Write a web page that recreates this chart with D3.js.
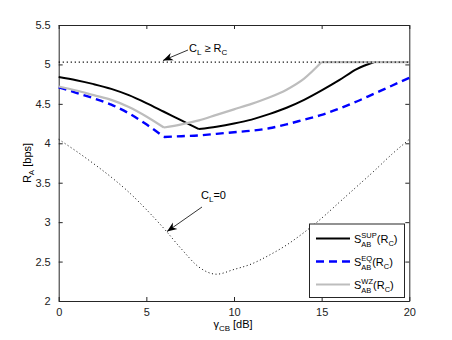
<!DOCTYPE html>
<html>
<head>
<meta charset="utf-8">
<script src="https://cdn.jsdelivr.net/npm/d3@7"></script>
<style>
  body { margin: 0; background: #fff; }
  svg { font-family: "Liberation Sans", Arial, sans-serif; }
</style>
</head>
<body>
<svg id="chart" width="452" height="340"></svg>
<script>
var width = 452, height = 340;
var margin = {left: 58.7, right: 42.7, top: 25, bottom: 39};

// data
var gammaCB = [0,1,2,3,4,5,6,7,8,9,10,11,12,13,14,15,16,17,18,19,20];
var sup = [4.84,4.80,4.75,4.69,4.61,4.51,4.40,4.29,4.18,4.21,4.25,4.30,4.37,4.45,4.55,4.67,4.80,4.94,5.03,5.03,5.03];
var eq  = [4.71,4.64,4.57,4.49,4.38,4.24,4.08,4.09,4.10,4.12,4.14,4.16,4.19,4.24,4.30,4.36,4.44,4.53,4.63,4.73,4.83];
var wz  = [4.72,4.67,4.61,4.55,4.46,4.34,4.20,4.24,4.29,4.36,4.43,4.50,4.58,4.68,4.82,5.03,5.03,5.03,5.03,5.03,5.03];
var clZero = [4.05,3.90,3.74,3.57,3.38,3.16,2.92,2.66,2.43,2.34,2.40,2.47,2.58,2.71,2.87,3.05,3.25,3.45,3.65,3.86,4.05];
var clMax = [5.03,5.03];
var clMaxX = [0,20];
// indices where a curve has a corner
var supKinks = [8, 18];
var eqKinks = [6];
var wzKinks = [6, 15];
var xTicks = [0,5,10,15,20];
var yTicks = [2,2.5,3,3.5,4,4.5,5,5.5];

var svg = d3.select("#chart");

var x = d3.scaleLinear().domain([0,20]).range([margin.left, width - margin.right]);
var y = d3.scaleLinear().domain([2,5.5]).range([height - margin.bottom, margin.top]);

var defs = svg.append("defs");
defs.append("marker")
    .attr("id", "arrow")
    .attr("viewBox", "0 0 10 10")
    .attr("refX", 10).attr("refY", 5)
    .attr("markerWidth", 10).attr("markerHeight", 10)
    .attr("markerUnits", "userSpaceOnUse")
    .attr("orient", "auto")
  .append("path")
    .attr("d", "M0,1 L10,5 L0,9 L3,5 Z")
    .attr("fill", "#000");

// axes, matlab box style with inward ticks
var axisColor = "#262626";
var fmt = function(d) { return d3.format("")(d); };

svg.append("g")
    .attr("transform", "translate(0," + (height - margin.bottom) + ")")
    .call(d3.axisBottom(x).tickValues(xTicks).tickSizeInner(-4).tickSizeOuter(0).tickPadding(7).tickFormat(fmt));
svg.append("g")
    .attr("transform", "translate(0," + margin.top + ")")
    .call(d3.axisTop(x).tickValues(xTicks).tickSizeInner(-4).tickSizeOuter(0).tickFormat(""));
svg.append("g")
    .attr("transform", "translate(" + margin.left + ",0)")
    .call(d3.axisLeft(y).tickValues(yTicks).tickSizeInner(-4).tickSizeOuter(0).tickPadding(8).tickFormat(fmt));
svg.append("g")
    .attr("transform", "translate(" + (width - margin.right) + ",0)")
    .call(d3.axisRight(y).tickValues(yTicks).tickSizeInner(-4).tickSizeOuter(0).tickFormat(""));

svg.selectAll(".domain").attr("stroke", axisColor);
svg.selectAll(".tick line").attr("stroke", axisColor);
svg.selectAll(".tick text").attr("font-size", 11).attr("fill", "#222")
    .attr("font-family", "'Liberation Sans', Arial, sans-serif");

var line = d3.line()
    .x(function(d) { return x(d[0]); })
    .y(function(d) { return y(d[1]); })
    .curve(d3.curveMonotoneX);

// split a series at its corners so each piece is smooth on its own
function pieces(values, kinks) {
  var pts = values.map(function(v, i) { return [gammaCB[i], v]; });
  var cuts = [0].concat(kinks, [pts.length - 1]);
  var out = [];
  for (var k = 0; k < cuts.length - 1; k++) out.push(pts.slice(cuts[k], cuts[k + 1] + 1));
  return out;
}

function drawSeries(values, kinks, stroke, widthPx, dash) {
  var g = svg.append("g");
  var segs = pieces(values, kinks);
  var d = segs.map(function(s) { return line(s); }).join("");
  g.append("path")
    .attr("d", d).attr("fill", "none")
    .attr("stroke", stroke).attr("stroke-width", widthPx)
    .attr("stroke-linejoin", "round")
    .attr("stroke-dasharray", dash);
}

drawSeries(sup, supKinks, "#000", 2, null);
drawSeries(eq, eqKinks, "#0000ff", 2.4, "8,5");
drawSeries(wz, wzKinks, "#bdbdbd", 2.2, null);
drawSeries(clZero, [], "#000", 1, "1,2.6");

svg.append("path").datum(clMax.map(function(v, i) { return [clMaxX[i], v]; }))
    .attr("d", d3.line().x(function(d) { return x(d[0]); }).y(function(d) { return y(d[1]); }))
    .attr("fill", "none")
    .attr("stroke", "#000").attr("stroke-width", 1.2)
    .attr("stroke-dasharray", "1.2,2.8");

// annotations
svg.append("line")
    .attr("x1", 188).attr("y1", 50).attr("x2", 163).attr("y2", 60.5)
    .attr("stroke", "#000").attr("stroke-width", 0.8)
    .attr("marker-end", "url(#arrow)");
var t1 = svg.append("text").attr("x", 189).attr("y", 52).attr("font-size", 11);
t1.append("tspan").text("C");
t1.append("tspan").attr("font-size", 8).attr("dy", 3).text("L");
t1.append("tspan").attr("dy", -3).text(" \u2265 R");
t1.append("tspan").attr("font-size", 8).attr("dy", 3).text("C");

svg.append("line")
    .attr("x1", 202).attr("y1", 207).attr("x2", 167).attr("y2", 231.5)
    .attr("stroke", "#000").attr("stroke-width", 0.8)
    .attr("marker-end", "url(#arrow)");
var t2 = svg.append("text").attr("x", 201).attr("y", 199).attr("font-size", 11);
t2.append("tspan").text("C");
t2.append("tspan").attr("font-size", 8).attr("dy", 3).text("L");
t2.append("tspan").attr("dy", -3).text("=0");

// axis labels
var xl = svg.append("text").attr("x", 233).attr("y", 328).attr("text-anchor", "middle").attr("font-size", 11);
xl.append("tspan").text("\u03b3");
xl.append("tspan").attr("font-size", 8).attr("dy", 3).text("CB");
xl.append("tspan").attr("dy", -3).text(" [dB]");

var yl = svg.append("text")
    .attr("transform", "translate(31,163) rotate(-90)")
    .attr("text-anchor", "middle").attr("font-size", 11);
yl.append("tspan").text("R");
yl.append("tspan").attr("font-size", 8).attr("dy", 3).text("A");
yl.append("tspan").attr("dy", -3).text(" [bps]");

// legend
var legendItems = [
  {sup: "SUP", color: "#000", width: 2, dash: null},
  {sup: "EQ", color: "#0000ff", width: 2.4, dash: "8,5"},
  {sup: "WZ", color: "#bdbdbd", width: 2.2, dash: null}
];
var lg = svg.append("g");
lg.append("rect")
    .attr("x", 309.5).attr("y", 224).attr("width", 95).attr("height", 73.5)
    .attr("fill", "#fff").attr("stroke", axisColor).attr("stroke-width", 1);
var row = lg.selectAll(".legend").data(legendItems).enter().append("g")
    .attr("class", "legend")
    .attr("transform", function(d, i) { return "translate(0," + (238.5 + i * 23) + ")"; });
row.append("line")
    .attr("x1", 316).attr("x2", 350).attr("y1", 0).attr("y2", 0)
    .attr("stroke", function(d) { return d.color; })
    .attr("stroke-width", function(d) { return d.width; })
    .attr("stroke-dasharray", function(d) { return d.dash; });

row.each(function(d) {
  var x0 = 354;
  var t = d3.select(this).append("text").attr("y", 4).attr("font-size", 11);
  var s = t.append("tspan").attr("x", x0).text("S");
  var sw = s.node().getComputedTextLength();
  var sp = t.append("tspan").attr("font-size", 7.5).attr("x", x0 + sw).attr("dy", -5).text(d.sup);
  var sb = t.append("tspan").attr("font-size", 7.5).attr("x", x0 + sw).attr("dy", 9).text("AB");
  var w = Math.max(sp.node().getComputedTextLength(), sb.node().getComputedTextLength());
  t.append("tspan").attr("x", x0 + sw + w).attr("dy", -4).text("(R");
  t.append("tspan").attr("font-size", 7.5).attr("dy", 3).text("C");
  t.append("tspan").attr("dy", -3).text(")");
});
</script>
</body>
</html>
